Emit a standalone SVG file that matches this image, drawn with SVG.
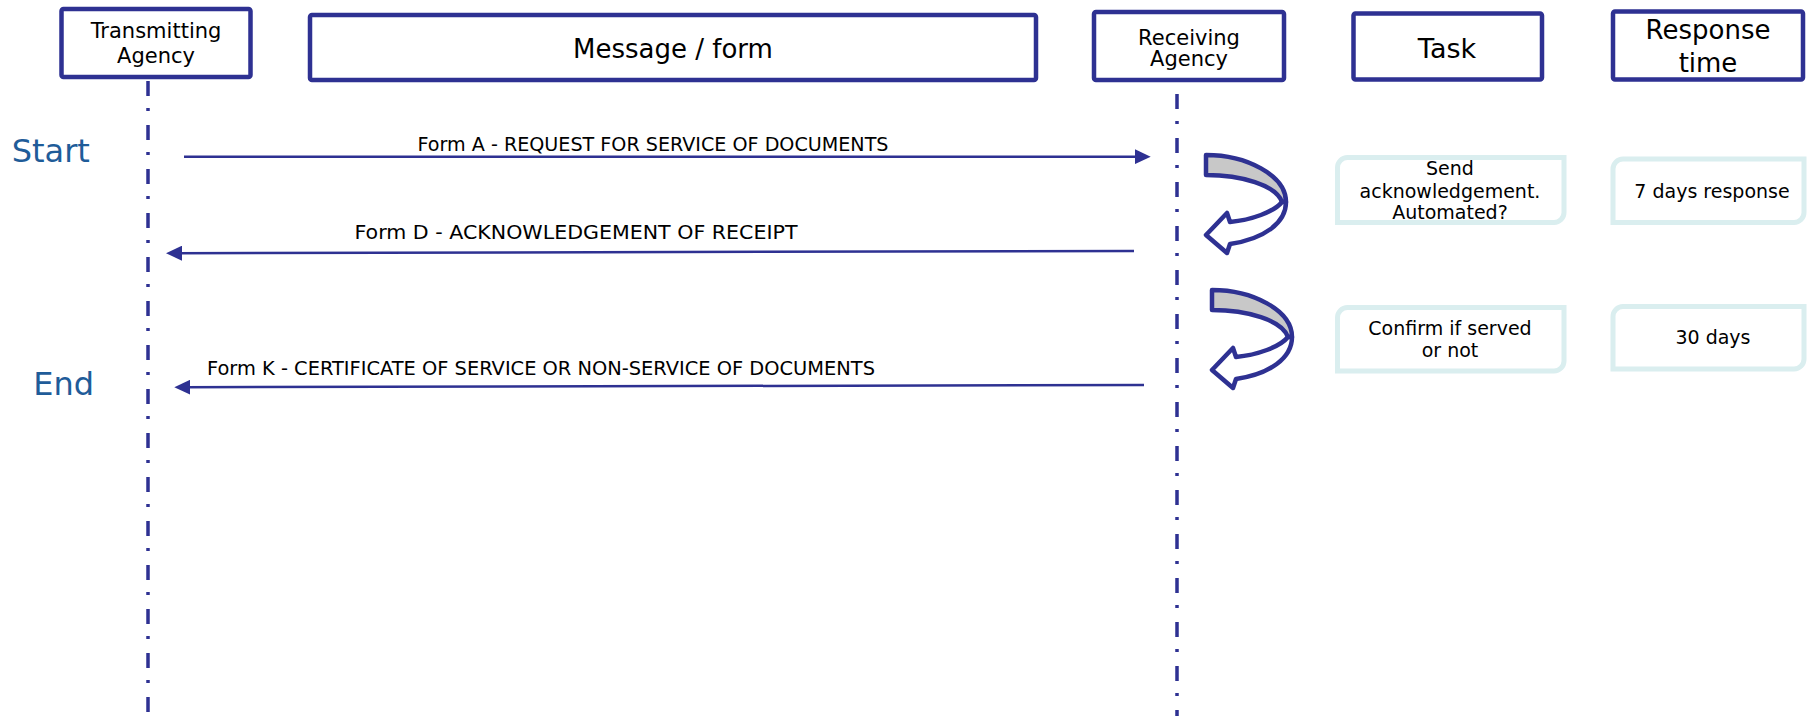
<svg xmlns="http://www.w3.org/2000/svg" width="1808" height="719" viewBox="0 0 1808 719">
<style>
.hdr{fill:#fff;stroke:#2E3192;stroke-width:4.5}
.t{font-family:"DejaVu Sans",Verdana,sans-serif;fill:#000;text-anchor:middle}
.life{stroke:#2E3192;stroke-width:3.5;stroke-dasharray:15 12 3 14;fill:none}
.msg{stroke:#2E3192;stroke-width:2.5;fill:none;marker-end:url(#ah)}
.lbl{font-family:"DejaVu Sans",Verdana,sans-serif;font-size:19px;fill:#000}
.side{font-family:"DejaVu Sans",Verdana,sans-serif;font-size:32px;fill:#1F5C99}
.box{fill:#fff;stroke:#DAEEEF;stroke-width:5}
.curl{stroke:#2E3192;stroke-width:4.5;stroke-linejoin:round}
</style>
<defs>
<marker id="ah" viewBox="0 0 16 15" refX="6" refY="7.5" markerWidth="16" markerHeight="15" orient="auto" markerUnits="userSpaceOnUse">
<path d="M0,0 L16,7.5 L0,15 Z" fill="#2E3192"/>
</marker>
<g id="curlShape">
<path class="curl" fill="#C8C8C8" d="M0,0 C40,0 80,20 80,47 L76,47 C70,30 35,20 0,20 Z"/>
<path class="curl" fill="#fff" d="M80,47 C80,68 58,84 24,89 L21,98 L0,80 L21,58 L24,67 C45,65 68,57 76,47 Z"/>
</g>
</defs>
<rect width="1808" height="719" fill="#fff"/>

<g id="connectors">
<line class="life" x1="148" y1="81" x2="148" y2="716"/>
<line class="life" x1="1177" y1="94" x2="1177" y2="716"/>
<line class="msg" x1="184" y1="156.7" x2="1140.7" y2="156.7"/>
<line class="msg" x1="1134" y1="251" x2="176" y2="253.2"/>
<line class="msg" x1="1144" y1="385" x2="184.3" y2="387.2"/>
<text class="lbl" x="653" y="151" text-anchor="middle" textLength="471" lengthAdjust="spacingAndGlyphs">Form A - REQUEST FOR SERVICE OF DOCUMENTS</text>
<text class="lbl" x="576" y="239" text-anchor="middle" textLength="443" lengthAdjust="spacingAndGlyphs">Form D - ACKNOWLEDGEMENT OF RECEIPT</text>
<text class="lbl" x="207" y="375" textLength="668" lengthAdjust="spacingAndGlyphs">Form K - CERTIFICATE OF SERVICE OR NON-SERVICE OF DOCUMENTS</text>
</g>

<g id="transmitting-agency">
<rect class="hdr" x="61.5" y="9" width="189" height="68" rx="2"/>
<text class="t" x="156" y="37.7" font-size="21">Transmitting</text>
<text class="t" x="156" y="63" font-size="21">Agency</text>
</g>
<g id="message-form">
<rect class="hdr" x="310" y="15" width="726" height="65" rx="2"/>
<text class="t" x="673" y="58" font-size="26">Message / form</text>
</g>
<g id="receiving-agency">
<rect class="hdr" x="1094" y="12" width="190" height="68" rx="2"/>
<text class="t" x="1189" y="45" font-size="21">Receiving</text>
<text class="t" x="1189" y="66" font-size="21">Agency</text>
</g>
<g id="task">
<rect class="hdr" x="1353.5" y="13.5" width="188.5" height="66" rx="2"/>
<text class="t" x="1447" y="58" font-size="27">Task</text>
</g>
<g id="response-time">
<rect class="hdr" x="1613" y="11.5" width="190" height="68" rx="2"/>
<text class="t" x="1708" y="39.3" font-size="26">Response</text>
<text class="t" x="1708" y="71.7" font-size="26">time</text>
</g>

<g id="start"><text class="side" x="11.7" y="161.7">Start</text></g>
<g id="end"><text class="side" x="33.3" y="395">End</text></g>

<g id="curl1"><use href="#curlShape" transform="translate(1206,155)"/></g>
<g id="curl2"><use href="#curlShape" transform="translate(1212,290)"/></g>

<g id="task1">
<path class="box" d="M1347.5,157.5 H1564 V212.5 A10,10 0 0 1 1554,222.5 H1337.5 V167.5 A10,10 0 0 1 1347.5,157.5 Z"/>
<text class="t" x="1450" y="175" font-size="19">Send</text>
<text class="t" x="1450" y="197.7" font-size="19">acknowledgement.</text>
<text class="t" x="1450" y="219.3" font-size="19">Automated?</text>
</g>
<g id="response1">
<path class="box" d="M1623,159 H1804 V212.5 A10,10 0 0 1 1794,222.5 H1613 V169 A10,10 0 0 1 1623,159 Z"/>
<text class="t" x="1712" y="198.3" font-size="19">7 days response</text>
</g>
<g id="task2">
<path class="box" d="M1347.5,307.5 H1564 V361 A10,10 0 0 1 1554,371 H1337.5 V317.5 A10,10 0 0 1 1347.5,307.5 Z"/>
<text class="t" x="1450" y="335" font-size="19">Confirm if served</text>
<text class="t" x="1450" y="356.7" font-size="19">or not</text>
</g>
<g id="response2">
<path class="box" d="M1623,306.5 H1804 V359 A10,10 0 0 1 1794,369 H1613 V316.5 A10,10 0 0 1 1623,306.5 Z"/>
<text class="t" x="1713" y="344" font-size="19">30 days</text>
</g>
</svg>
